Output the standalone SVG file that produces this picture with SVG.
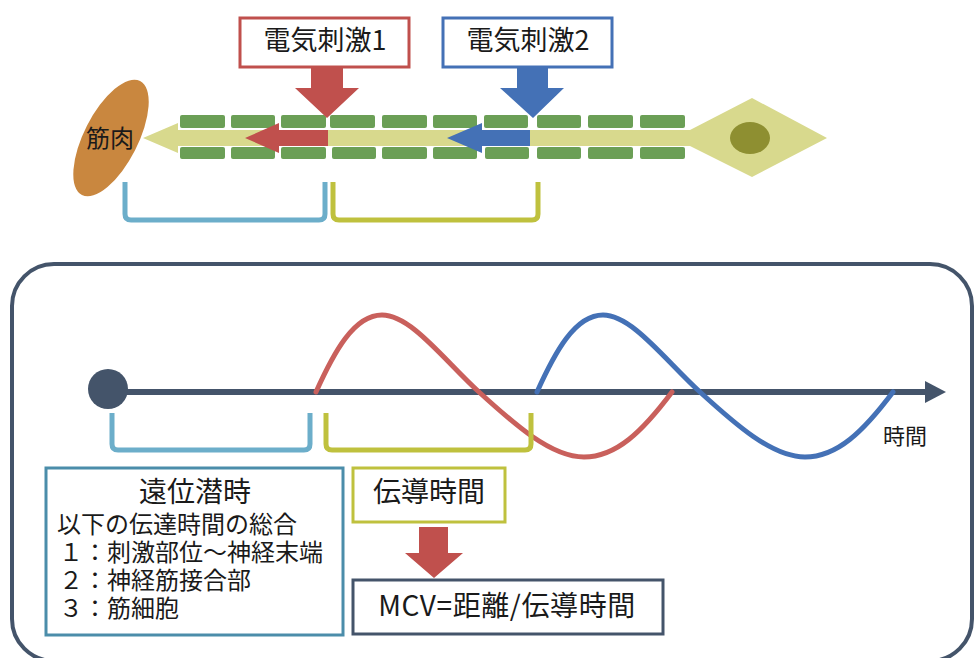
<svg xmlns="http://www.w3.org/2000/svg" width="974" height="658" viewBox="0 0 974 658">
  <defs>
    <style>
      .lbl { font-family: "Noto Sans CJK JP", "Noto Sans", sans-serif; fill: #1a1a1a; }
      .box { fill: #ffffff; stroke-width: 3; }
      .myelin { fill: #6b9f56; }
      .bracket { fill: none; stroke-width: 5; stroke-linejoin: round; stroke-linecap: butt; }
      .wave { fill: none; stroke-width: 5; stroke-linecap: round; }
      .red { fill: #c0504d; }
      .blue { fill: #4471b6; }
    </style>
    <path id="wave" d="M0,0 C18,-40 38,-77 66,-77 C95,-77 128,-32 163,0 C198,32 235,65 268,65 C300,65 326,40 356,0"/>
  </defs>

  <!-- upper part: nerve fibre and stimulation sites -->
  <g id="muscle">
    <ellipse cx="111" cy="138" rx="27" ry="64" transform="rotate(27 111 138)" fill="#c9873f"/>
    <text class="lbl" x="110" y="147" font-size="24" text-anchor="middle">筋肉</text>
  </g>

  <g id="axon">
    <polygon points="143,138 178,123 178,130 690,130 752,98 827,138 752,177 690,146 178,146 178,153" fill="#d8d98d"/>
    <ellipse cx="750" cy="138" rx="20" ry="16" fill="#8e8f31"/>
  </g>

  <g id="myelin">
    <rect class="myelin" x="180" y="115" width="45" height="13" rx="2"/>
    <rect class="myelin" x="231" y="115" width="44" height="13" rx="2"/>
    <rect class="myelin" x="281" y="115" width="45" height="13" rx="2"/>
    <rect class="myelin" x="330" y="115" width="45" height="13" rx="2"/>
    <rect class="myelin" x="382" y="115" width="45" height="13" rx="2"/>
    <rect class="myelin" x="433" y="115" width="44" height="13" rx="2"/>
    <rect class="myelin" x="484" y="115" width="44" height="13" rx="2"/>
    <rect class="myelin" x="537" y="115" width="44" height="13" rx="2"/>
    <rect class="myelin" x="588" y="115" width="45" height="13" rx="2"/>
    <rect class="myelin" x="640" y="115" width="45" height="13" rx="2"/>
    <rect class="myelin" x="180" y="147" width="45" height="12" rx="2"/>
    <rect class="myelin" x="231" y="147" width="44" height="12" rx="2"/>
    <rect class="myelin" x="281" y="147" width="45" height="12" rx="2"/>
    <rect class="myelin" x="332" y="147" width="44" height="12" rx="2"/>
    <rect class="myelin" x="382" y="147" width="45" height="12" rx="2"/>
    <rect class="myelin" x="433" y="147" width="44" height="12" rx="2"/>
    <rect class="myelin" x="485" y="147" width="44" height="12" rx="2"/>
    <rect class="myelin" x="537" y="147" width="44" height="12" rx="2"/>
    <rect class="myelin" x="588" y="147" width="45" height="12" rx="2"/>
    <rect class="myelin" x="640" y="147" width="45" height="12" rx="2"/>
  </g>

  <g id="stim1">
    <rect class="box" x="240" y="18" width="169" height="49" stroke="#c0504d"/>
    <text class="lbl" x="325" y="50" font-size="27" text-anchor="middle">電気刺激1</text>
  </g>
  <g id="stim2">
    <rect class="box" x="443" y="18" width="169" height="49" stroke="#4471b6"/>
    <text class="lbl" x="528" y="50" font-size="27" text-anchor="middle">電気刺激2</text>
  </g>

  <g id="connectors">
    <!-- stimulus arrows -->
    <polygon class="red" points="311,67 343,67 343,88 359,88 327,118 295,88 311,88"/>
    <polygon class="blue" points="517,67 548,67 548,88 564,88 533,118 500,88 517,88"/>
    <!-- propagation arrows along the fibre -->
    <polygon class="red" points="245,138 279,123 279,130 328,130 328,146 279,146 279,153"/>
    <polygon class="blue" points="447,138 482,123 482,130 530,130 530,146 482,146 482,153"/>
    <!-- upper brackets -->
    <path class="bracket" stroke="#6caeca" d="M125,182 V214 Q125,220 131,220 H319 Q325,220 325,214 V182"/>
    <path class="bracket" stroke="#bfc13e" d="M333,182 V214 Q333,220 339,220 H532 Q538,220 538,214 V182"/>
  </g>

  <!-- lower panel: recorded potentials over time -->
  <rect id="panel" x="12" y="264" width="960" height="397" rx="42" fill="none" stroke="#44546a" stroke-width="4"/>

  <g id="time-axis">
    <line x1="108" y1="392" x2="928" y2="392" stroke="#44546a" stroke-width="6"/>
    <polygon points="925,381 946,392 925,403" fill="#44546a"/>
    <circle cx="108" cy="389" r="20" fill="#44546a"/>
    <text class="lbl" x="905" y="444" font-size="22" text-anchor="middle">時間</text>
  </g>

  <g id="waves">
    <use href="#wave" class="wave" stroke="#c9605c" transform="translate(316 392)"/>
    <use href="#wave" class="wave" stroke="#4471b6" transform="translate(537 392)"/>
  </g>

  <g id="lower-brackets">
    <path class="bracket" stroke="#6caeca" d="M112,413 V444 Q112,450 118,450 H304 Q310,450 310,444 V413"/>
    <path class="bracket" stroke="#bfc13e" d="M326,413 V444 Q326,450 332,450 H525 Q531,450 531,444 V413"/>
  </g>

  <g id="distal-latency">
    <rect class="box" x="46" y="468" width="297" height="167" stroke="#4b8daa"/>
    <text class="lbl" x="195" y="502" font-size="28" text-anchor="middle">遠位潜時</text>
    <text class="lbl" x="57" y="533" font-size="24">以下の伝達時間の総合</text>
    <text class="lbl" x="59" y="561" font-size="24">１：刺激部位～神経末端</text>
    <text class="lbl" x="59" y="589" font-size="24">２：神経筋接合部</text>
    <text class="lbl" x="59" y="617" font-size="24">３：筋細胞</text>
  </g>

  <g id="conduction-time">
    <rect class="box" x="353" y="468" width="152" height="54" stroke="#bfc13e"/>
    <text class="lbl" x="429" y="502" font-size="28" text-anchor="middle">伝導時間</text>
  </g>

  <polygon class="red" points="419,527 448,527 448,553 463,553 434,578 405,553 419,553"/>

  <g id="mcv">
    <rect class="box" x="353" y="580" width="310" height="54" stroke="#44546a"/>
    <text class="lbl" x="507" y="616" font-size="28" letter-spacing="0.6" text-anchor="middle">MCV=距離/伝導時間</text>
  </g>
</svg>
